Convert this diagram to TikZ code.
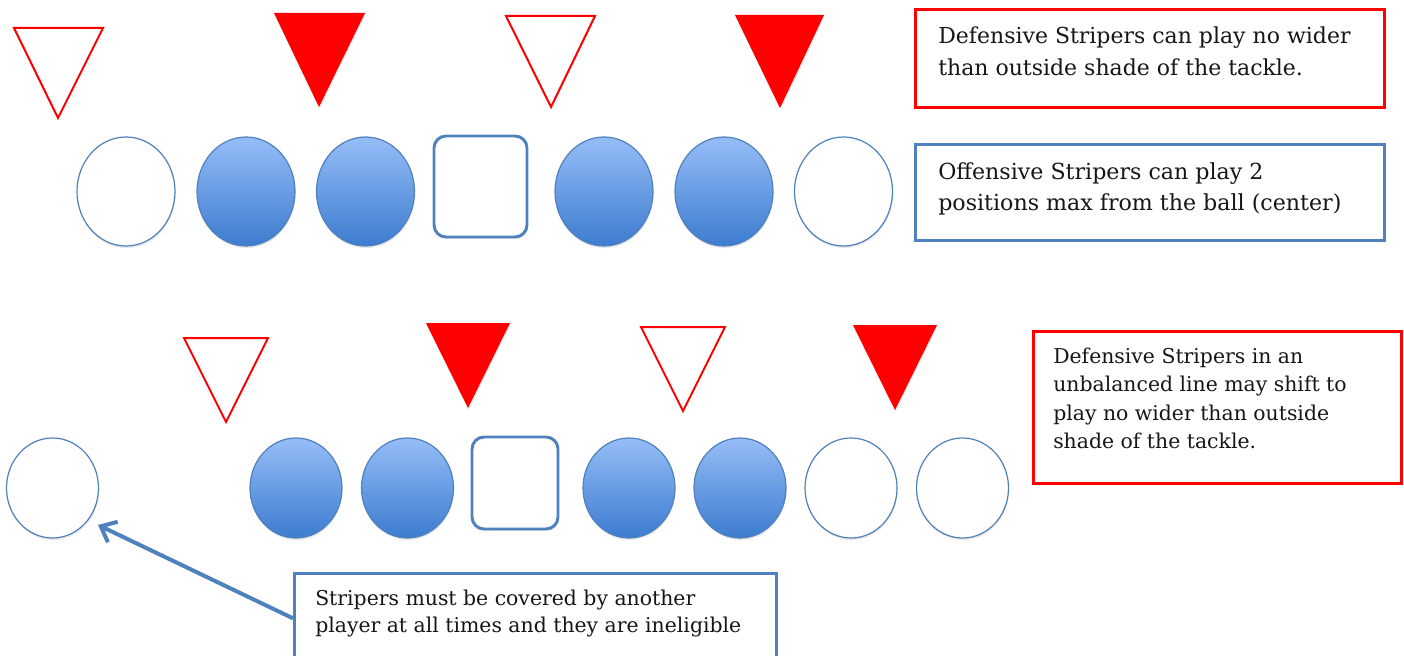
\documentclass[tikz,border=0pt]{standalone}
\usepackage{fontspec}
\setmainfont{DejaVu Serif}
\usetikzlibrary{shapes.geometric,arrows.meta,shadows}
\definecolor{offblue}{RGB}{79,129,189}
\definecolor{filltop}{RGB}{150,189,247}
\definecolor{fillbot}{RGB}{60,124,207}
\definecolor{defred}{RGB}{255,0,0}
\definecolor{txtcol}{RGB}{22,22,22}
\begin{document}
\begin{tikzpicture}[x=0.75pt,y=-0.75pt,
  shad/.style={drop shadow={opacity=0.18,shadow xshift=0.4pt,shadow yshift=-1.6pt}},
  lineman/.style={ellipse,draw=offblue,line width=0.9pt,inner sep=0pt,shad},
  bigman/.style={minimum width=73.5pt,minimum height=81.75pt},
  smallman/.style={minimum width=69pt,minimum height=75pt},
  solidman/.style={lineman,top color=filltop,bottom color=fillbot},
  stripeman/.style={lineman,fill=white},
  centerbox/.style={rectangle,rounded corners=9pt,draw=offblue,line width=2.2pt,fill=white,inner sep=0pt,shad},
  hollowdef/.style={draw=defred,line width=1.5pt,fill=white,line join=miter,shad},
  soliddef/.style={fill=defred,shad},
  redbox/.style={rectangle,draw=defred,line width=2.2pt,fill=white,inner sep=0pt,anchor=north west},
  bluebox/.style={rectangle,draw=offblue,line width=2pt,fill=white,inner sep=0pt,anchor=north west},
  note/.style={inner sep=0pt,align=left,anchor=north west,text=txtcol},
  pointer/.style={draw=offblue,line width=3pt,-{Straight Barb[length=10pt,width=17pt,line width=3pt]}}
]
\useasboundingbox (0,0) rectangle (1404,656);
\clip (0,0) rectangle (1404,656);

% ---------- top formation ----------
\path[hollowdef] (14,28) -- (103,28) -- (58,118) -- cycle;
\path[soliddef] (274,13) -- (365,13) -- (319,107) -- cycle;
\path[hollowdef] (506,16) -- (595,16) -- (551,107) -- cycle;
\path[soliddef] (735,15) -- (824,15) -- (780,108) -- cycle;

\node[stripeman,bigman] (ta1) at (126,191.5) {};
\node[solidman,bigman] (ta2) at (246,191.5) {};
\node[solidman,bigman] (ta3) at (365.5,191.5) {};
\node[centerbox,minimum width=69.75pt,minimum height=75.75pt] (tc) at (480.5,186.5) {};
\node[solidman,bigman] (ta5) at (604,191.5) {};
\node[solidman,bigman] (ta6) at (724,191.5) {};
\node[stripeman,bigman] (ta7) at (843.5,191.5) {};

\node[redbox,minimum width=351.75pt,minimum height=73.5pt] (r1) at (914,8) {};
\node[note,font=\fontsize{16.5}{24}\selectfont] (t1) at (938,26.3)
  {Defensive Stripers can play no wider\\than outside shade of the tackle.};
\node[bluebox,minimum width=351.75pt,minimum height=72pt] (b2) at (914,143) {};
\node[note,font=\fontsize{16.6}{23.25}\selectfont] (t2) at (938,162)
  {Offensive Stripers can play 2\\positions max from the ball (center)};

% ---------- bottom formation ----------
\path[hollowdef] (184,338) -- (268,338) -- (226,422) -- cycle;
\path[soliddef] (426,323) -- (510,323) -- (468,408) -- cycle;
\path[hollowdef] (641,327) -- (725,327) -- (683,411) -- cycle;
\path[soliddef] (853,325) -- (937,325) -- (895,410) -- cycle;

\node[stripeman,smallman] (bc1) at (52.5,488) {};
\node[solidman,smallman] (bc2) at (296,488) {};
\node[solidman,smallman] (bc3) at (407.5,488) {};
\node[centerbox,minimum width=64.5pt,minimum height=69pt] (bcc) at (515,483) {};
\node[solidman,smallman] (bc5) at (629,488) {};
\node[solidman,smallman] (bc6) at (740,488) {};
\node[stripeman,smallman] (bc7) at (851,488) {};
\node[stripeman,smallman] (bc8) at (962.5,488) {};

\node[redbox,minimum width=276pt,minimum height=114pt] (r3) at (1032,330) {};
\node[note,font=\fontsize{15.3}{21.4}\selectfont] (t3) at (1053,347.5)
  {Defensive Stripers in an\\unbalanced line may shift to\\play no wider than outside\\shade of the tackle.};

\node[bluebox,minimum width=361.5pt,minimum height=67.5pt] (b4) at (293,572) {};
\node[note,font=\fontsize{15.3}{20.25}\selectfont] (t4) at (315,589.5)
  {Stripers must be covered by another\\player at all times and they are ineligible};

\draw[pointer,shorten >=8pt] (b4.west) -- (bc1.-42);
\end{tikzpicture}
\end{document}
